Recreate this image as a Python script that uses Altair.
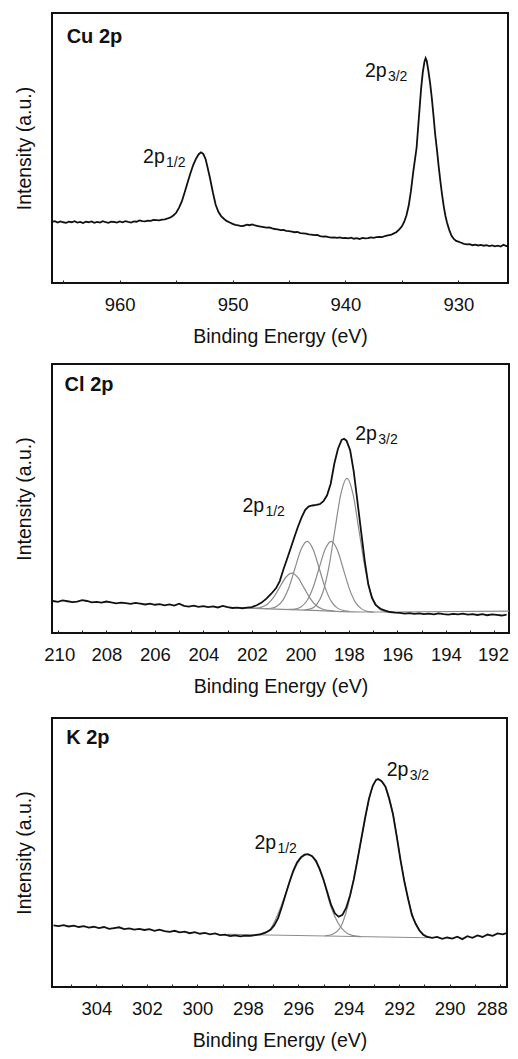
import altair as alt
import pandas as pd

FONT = "Liberation Sans"

# ---------------- Cu 2p ----------------
cu_be = [966.00, 965.75, 965.50, 965.25, 965.00, 964.75, 964.50, 964.25, 964.00, 963.75,
         963.50, 963.25, 963.00, 962.75, 962.50, 962.25, 962.00, 961.75, 961.50, 961.25,
         961.00, 960.75, 960.50, 960.25, 960.00, 959.75, 959.50, 959.25, 959.00, 958.75,
         958.50, 958.25, 958.00, 957.75, 957.50, 957.25, 957.00, 956.75, 956.50, 956.25,
         956.00, 955.75, 955.50, 955.25, 955.00, 954.75, 954.50, 954.25, 954.00, 953.75,
         953.50, 953.25, 953.00, 952.80, 952.60, 952.40, 952.20, 952.00, 951.75, 951.50,
         951.25, 951.00, 950.75, 950.50, 950.25, 950.00, 949.75, 949.50, 949.25, 949.00,
         948.75, 948.50, 948.25, 948.00, 947.75, 947.50, 947.25, 947.00, 946.75, 946.50,
         946.25, 946.00, 945.75, 945.50, 945.25, 945.00, 944.75, 944.50, 944.25, 944.00,
         943.75, 943.50, 943.25, 943.00, 942.75, 942.50, 942.25, 942.00, 941.75, 941.50,
         941.25, 941.00, 940.75, 940.50, 940.25, 940.00, 939.75, 939.50, 939.25, 939.00,
         938.75, 938.50, 938.25, 938.00, 937.75, 937.50, 937.25, 937.00, 936.75, 936.50,
         936.25, 936.00, 935.75, 935.50, 935.25, 935.00, 934.80, 934.60, 934.40, 934.20,
         934.00, 933.85, 933.70, 933.50, 933.30, 933.15, 933.00, 932.90, 932.80, 932.65,
         932.50, 932.35, 932.20, 932.05, 931.90, 931.75, 931.60, 931.45, 931.30, 931.15,
         931.00, 930.80, 930.60, 930.40, 930.20, 930.00, 929.75, 929.50, 929.25, 929.00,
         928.75, 928.50, 928.25, 928.00, 927.75, 927.50, 927.25, 927.00, 926.75, 926.50,
         926.25, 926.00, 925.75, 925.60]
cu_int = [22.6, 22.9, 22.4, 22.8, 22.5, 22.3, 22.7, 22.5, 22.9, 22.4,
          22.6, 22.2, 22.7, 22.5, 22.8, 22.3, 22.6, 22.4, 22.9, 22.5,
          22.3, 22.7, 22.6, 22.4, 22.8, 22.5, 22.9, 22.6, 22.4, 22.8,
          22.7, 23.2, 22.9, 22.8, 23.1, 23.0, 23.4, 23.3, 23.2, 23.5,
          23.6, 23.9, 24.3, 25.0, 26.0, 27.8, 30.2, 33.5, 37.0, 40.5,
          43.6, 46.0, 47.7, 48.4, 47.8, 46.0, 42.5, 38.8, 33.6, 29.0,
          26.3, 24.7, 23.7, 22.9, 22.4, 21.9, 21.5, 21.3, 21.1, 21.2,
          21.6, 21.4, 21.7, 21.3, 21.1, 20.9, 20.7, 20.5, 20.6, 20.2,
          20.0, 19.9, 19.6, 19.7, 19.3, 19.2, 19.0, 18.8, 18.9, 18.5,
          18.4, 18.3, 18.0, 17.9, 17.7, 17.8, 17.4, 17.2, 17.3, 17.0,
          16.8, 16.9, 16.7, 16.9, 16.6, 16.7, 16.5, 16.8, 16.4, 16.6,
          16.3, 16.7, 16.5, 16.6, 16.9, 16.7, 17.0, 17.1, 17.0, 17.4,
          17.6, 17.8, 18.3, 18.8, 19.8, 21.0, 22.6, 25.0, 28.6, 34.0,
          41.0, 45.5, 50.0, 61.0, 71.9, 78.0, 82.0, 83.3, 82.3, 78.5,
          74.0, 68.5, 62.0, 55.0, 49.6, 43.5, 38.0, 33.0, 28.6, 25.0,
          22.3, 19.6, 17.5, 16.3, 15.6, 15.3, 14.9, 14.5, 14.3, 14.4,
          14.0, 14.2, 13.9, 14.1, 13.8, 14.0, 13.7, 13.9, 13.6, 13.8,
          13.5, 14.2, 13.7, 13.6]
cu_ticks = [965, 960, 955, 950, 945, 940, 935, 930]
cu_domain = [925.6, 966.0]
cu_title = "Cu 2p"
cu_title_pos = [964.7, 88.9]
cu_peak_x = [957.93, 938.28]
cu_peak_y = [44.4, 76.3]
cu_peak_sub = ["1/2", "3/2"]

# ---------------- Cl 2p ----------------
cl_be = [210.2, 210.0, 209.8, 209.6, 209.4, 209.2, 209.0, 208.8, 208.6, 208.4,
         208.2, 208.0, 207.8, 207.6, 207.4, 207.2, 207.0, 206.8, 206.6, 206.4,
         206.2, 206.0, 205.8, 205.6, 205.4, 205.2, 205.0, 204.8, 204.6, 204.4,
         204.2, 204.0, 203.8, 203.6, 203.4, 203.2, 203.0, 202.8, 202.6, 202.4,
         202.2, 202.0, 201.8, 201.6, 201.4, 201.2, 201.0, 200.85, 200.7, 200.55,
         200.4, 200.25, 200.1, 199.95, 199.8, 199.65, 199.5, 199.35, 199.2, 199.05,
         198.9, 198.75, 198.6, 198.45, 198.3, 198.2, 198.1, 197.95, 197.8, 197.65,
         197.5, 197.35, 197.2, 197.05, 196.9, 196.7, 196.5, 196.3, 196.1, 195.9,
         195.7, 195.5, 195.3, 195.1, 194.9, 194.7, 194.5, 194.3, 194.1, 193.9,
         193.7, 193.5, 193.3, 193.1, 192.9, 192.7, 192.5, 192.3, 192.1, 191.9,
         191.7, 191.5]
cl_int = [11.9, 11.6, 12.1, 11.8, 11.5, 11.7, 12.2, 11.9, 11.4, 11.6,
          11.3, 11.7, 11.4, 11.0, 11.3, 11.1, 10.8, 11.2, 10.9, 10.6,
          10.9, 10.5, 10.7, 10.3, 10.6, 10.2, 10.9, 10.1, 9.8, 10.2,
          9.7, 10.0, 9.6, 9.9, 9.5, 10.1, 9.6, 9.3, 9.4, 9.2,
          9.4, 9.6, 10.3, 11.3, 12.8, 14.6, 16.7, 19.3, 23.6, 27.5,
          31.5, 35.6, 39.5, 43.0, 45.8, 47.1, 47.4, 47.6, 47.9, 49.0,
          51.2, 55.5, 63.0, 68.5, 71.8, 72.2, 71.5, 68.0, 60.0, 49.0,
          38.0, 27.0, 18.0, 13.0, 10.4, 9.0, 8.3, 7.8, 7.6, 7.5,
          7.2, 7.4, 7.1, 7.3, 7.0, 7.2, 6.9, 7.3, 7.0, 6.8,
          7.1, 6.9, 7.2, 6.8, 7.0, 6.7, 7.0, 6.6, 6.9, 6.7,
          6.5, 6.8]
cl_c1_be = [202.10, 201.85, 201.60, 201.35, 201.10, 200.85, 200.60, 200.35, 200.10, 199.85,
            199.60, 199.35, 199.10, 198.85, 198.60]
cl_c1_int = [9.20, 9.25, 9.62, 10.79, 13.30, 17.07, 20.73, 22.26, 20.59, 16.78,
             12.86, 10.21, 8.90, 8.38, 8.18]
cl_c2_be = [201.47, 201.22, 200.97, 200.72, 200.47, 200.22, 199.97, 199.72, 199.47, 199.22,
            198.97, 198.72, 198.47, 198.22, 197.97]
cl_c2_int = [9.04, 9.19, 9.97, 12.23, 17.02, 24.16, 31.13, 34.08, 30.99, 23.87,
             16.58, 11.65, 9.25, 8.32, 8.02]
cl_c3_be = [200.48, 200.23, 199.98, 199.73, 199.48, 199.23, 198.98, 198.73, 198.48, 198.23,
            197.98, 197.73, 197.48, 197.23, 196.98]
cl_c3_int = [8.75, 8.91, 9.69, 11.98, 16.83, 24.06, 31.10, 34.09, 30.96, 23.77,
             16.39, 11.40, 8.97, 8.04, 7.73]
cl_c4_be = [199.83, 199.58, 199.33, 199.08, 198.83, 198.58, 198.33, 198.08, 197.83, 197.58,
            197.33, 197.08, 196.83, 196.58, 196.33]
cl_c4_int = [8.61, 8.98, 10.55, 14.97, 24.31, 38.20, 51.74, 57.50, 51.59, 37.91,
             23.88, 14.39, 9.82, 8.11, 7.60]
cl_bg_be = [202.5, 199.5, 197.2, 191.4]
cl_bg_int = [9.3, 8.4, 7.8, 8.1]
cl_ticks = list(range(192, 211))
cl_domain = [191.4, 210.24]
cl_title = "Cl 2p"
cl_title_pos = [209.72, 90.1]
cl_peak_x = [202.39, 197.74]
cl_peak_y = [45.0, 71.7]
cl_peak_sub = ["1/2", "3/2"]

# ---------------- K 2p ----------------
k_be = [305.7, 305.5, 305.3, 305.1, 304.9, 304.7, 304.5, 304.3, 304.1, 303.9,
        303.7, 303.5, 303.3, 303.1, 302.9, 302.7, 302.5, 302.3, 302.1, 301.9,
        301.7, 301.5, 301.3, 301.1, 300.9, 300.7, 300.5, 300.3, 300.1, 299.9,
        299.7, 299.5, 299.3, 299.1, 298.9, 298.7, 298.5, 298.3, 298.1, 297.9,
        297.7, 297.5, 297.3, 297.1, 296.95, 296.8, 296.65, 296.5, 296.35, 296.2,
        296.05, 295.9, 295.75, 295.62, 295.45, 295.3, 295.15, 295.0, 294.85, 294.7,
        294.55, 294.4, 294.25, 294.1, 293.95, 293.8, 293.65, 293.5, 293.35, 293.2,
        293.05, 292.92, 292.84, 292.7, 292.55, 292.4, 292.25, 292.1, 291.95, 291.8,
        291.65, 291.5, 291.35, 291.2, 291.05, 290.9, 290.7, 290.5, 290.3, 290.1,
        289.9, 289.7, 289.5, 289.3, 289.1, 288.9, 288.7, 288.5, 288.3, 288.1,
        287.9, 287.75]
k_int = [22.9, 22.6, 23.0, 22.5, 22.8, 22.3, 22.6, 22.1, 22.4, 21.9,
         22.3, 21.6, 21.9, 22.2, 21.5, 21.8, 21.3, 21.6, 21.2, 21.5,
         20.9, 21.3, 20.8, 20.5, 20.9, 20.3, 20.6, 20.0, 20.4, 19.8,
         20.1, 19.6, 19.9, 19.3, 19.5, 18.9, 19.2, 18.8, 19.1, 19.0,
         19.3, 19.6, 20.2, 21.3, 23.0, 25.6, 29.8, 34.5, 39.0, 43.2,
         46.3, 48.2, 49.2, 49.4, 48.6, 46.9, 43.8, 39.9, 35.2, 30.5,
         27.4, 26.1, 26.8, 29.5, 34.0, 40.0, 47.5, 55.3, 63.0, 70.0,
         74.8, 77.0, 77.3, 76.5, 74.5, 70.0, 64.3, 56.0, 47.2, 39.3,
         32.8, 26.8, 23.5, 21.0, 19.4, 18.6, 18.3, 18.6, 17.9, 18.4,
         18.0, 18.7, 17.8, 18.9, 18.3, 19.2, 18.6, 19.5, 19.0, 19.9,
         19.6, 20.0]
k_c1_be = [297.72, 297.42, 297.12, 296.82, 296.52, 296.22, 295.92, 295.62, 295.32, 295.02,
           294.72, 294.42, 294.12, 293.82, 293.52]
k_c1_int = [19.5, 20.0, 21.4, 26.8, 34.2, 42.2, 47.5, 49.3, 46.8, 40.1,
            30.2, 23.7, 20.3, 19.1, 18.7]
k_c2_be = [294.94, 294.64, 294.34, 294.04, 293.74, 293.44, 293.14, 292.84, 292.54, 292.24,
           291.94, 291.64, 291.34, 291.04, 290.74]
k_c2_int = [19.0, 19.6, 22.0, 30.0, 43.4, 58.0, 72.0, 77.3, 74.5, 64.0,
            47.0, 32.5, 23.3, 19.6, 18.4]
k_bg_be = [298.8, 290.9]
k_bg_int = [19.6, 18.3]
k_ticks = list(range(288, 306))
k_domain = [287.73, 305.76]
k_title = "K 2p"
k_title_pos = [305.2, 90.3]
k_peak_x = [297.74, 292.50]
k_peak_y = [51.3, 78.4]
k_peak_sub = ["1/2", "3/2"]


def panel(be, inten, comps, bg, ticks, label_every, domain, title, title_pos,
          peak_x, peak_y, peak_sub, width, height, flush=None):
    xscale = alt.Scale(domain=domain, reverse=True, nice=False, zero=False)
    yscale = alt.Scale(domain=[0, 100], nice=False, zero=False)
    if flush:
        extra = {"labelFlush": flush[0], "labelFlushOffset": flush[1]}
    else:
        extra = {"labelFlush": False}
    xaxis = alt.Axis(
        title="Binding Energy (eV)", values=ticks,
        labelExpr=f"datum.value % {label_every} == 0 ? datum.label : ''",
        grid=False, domain=False, ticks=True, tickSize=3, tickWidth=1,
        tickColor="#222", offset=-3, labelPadding=12, labelFontSize=18.5,
        labelFont=FONT, labelColor="#111", labelOverlap=False,
        titleFont=FONT, titleFontSize=19.5, titleFontWeight="normal",
        titleColor="#111", titlePadding=14, **extra,
    )
    yaxis = alt.Axis(
        title="Intensity (a.u.)", labels=False, ticks=False, domain=False,
        grid=False, titleFont=FONT, titleFontSize=19.5,
        titleFontWeight="normal", titleColor="#111", titlePadding=18,
    )
    X = alt.X("be:Q", scale=xscale, axis=xaxis)
    Y = alt.Y("i:Q", scale=yscale, axis=yaxis)
    df = pd.DataFrame({"be": be, "i": inten})
    layers = []
    if comps:
        rows = []
        for k, (cx, cy) in enumerate(comps):
            for a, b in zip(cx, cy):
                rows.append({"be": a, "i": b, "comp": f"c{k}"})
        for a, b in zip(*bg):
            rows.append({"be": a, "i": b, "comp": "bg"})
        cdf = pd.DataFrame(rows)
        layers.append(
            alt.Chart(cdf).mark_line(color="#8c8c8c", strokeWidth=1.2, clip=True,
                                     interpolate="monotone").encode(
                x=X, y=Y, detail="comp:N")
        )
    layers.append(
        alt.Chart(df).mark_line(color="#111", strokeWidth=1.8, clip=True).encode(x=X, y=Y)
    )
    tdf = pd.DataFrame({"be": [title_pos[0]], "i": [title_pos[1]], "t": [title]})
    layers.append(
        alt.Chart(tdf).mark_text(align="left", baseline="alphabetic", font=FONT,
                                 fontSize=20, fontWeight="bold", color="#111").encode(
            x=X, y=Y, text="t:N")
    )
    pdf = pd.DataFrame({"be": peak_x, "i": peak_y, "main": ["2p", "2p"], "sub": peak_sub})
    layers.append(
        alt.Chart(pdf).mark_text(align="left", baseline="alphabetic", font=FONT,
                                 fontSize=19.5, color="#111").encode(
            x=X, y=Y, text="main:N")
    )
    layers.append(
        alt.Chart(pdf).mark_text(align="left", baseline="alphabetic", font=FONT,
                                 fontSize=14, color="#111", dx=23, dy=4).encode(
            x=X, y=Y, text="sub:N")
    )
    return alt.layer(*layers).properties(width=width, height=height)


p1 = panel(cu_be, cu_int, None, None, cu_ticks, 10, cu_domain, cu_title, cu_title_pos,
           cu_peak_x, cu_peak_y, cu_peak_sub, 456, 270)
p2 = panel(cl_be, cl_int,
           [(cl_c1_be, cl_c1_int), (cl_c2_be, cl_c2_int), (cl_c3_be, cl_c3_int), (cl_c4_be, cl_c4_int)],
           (cl_bg_be, cl_bg_int), cl_ticks, 2, cl_domain, cl_title, cl_title_pos,
           cl_peak_x, cl_peak_y, cl_peak_sub, 457, 269, flush=(15, 14))
p3 = panel(k_be, k_int, [(k_c1_be, k_c1_int), (k_c2_be, k_c2_int)],
           (k_bg_be, k_bg_int), k_ticks, 2, k_domain, k_title, k_title_pos,
           k_peak_x, k_peak_y, k_peak_sub, 455, 269, flush=(8, 7))

top = alt.vconcat(p1, p2, spacing=16)
chart = alt.vconcat(top, p3, spacing=20).properties(
    padding={"top": 4, "left": 5, "right": 0, "bottom": 0}
).configure_view(stroke="#111", strokeWidth=2)

chart.save("out.html", embed_options={"renderer": "svg", "actions": False})
